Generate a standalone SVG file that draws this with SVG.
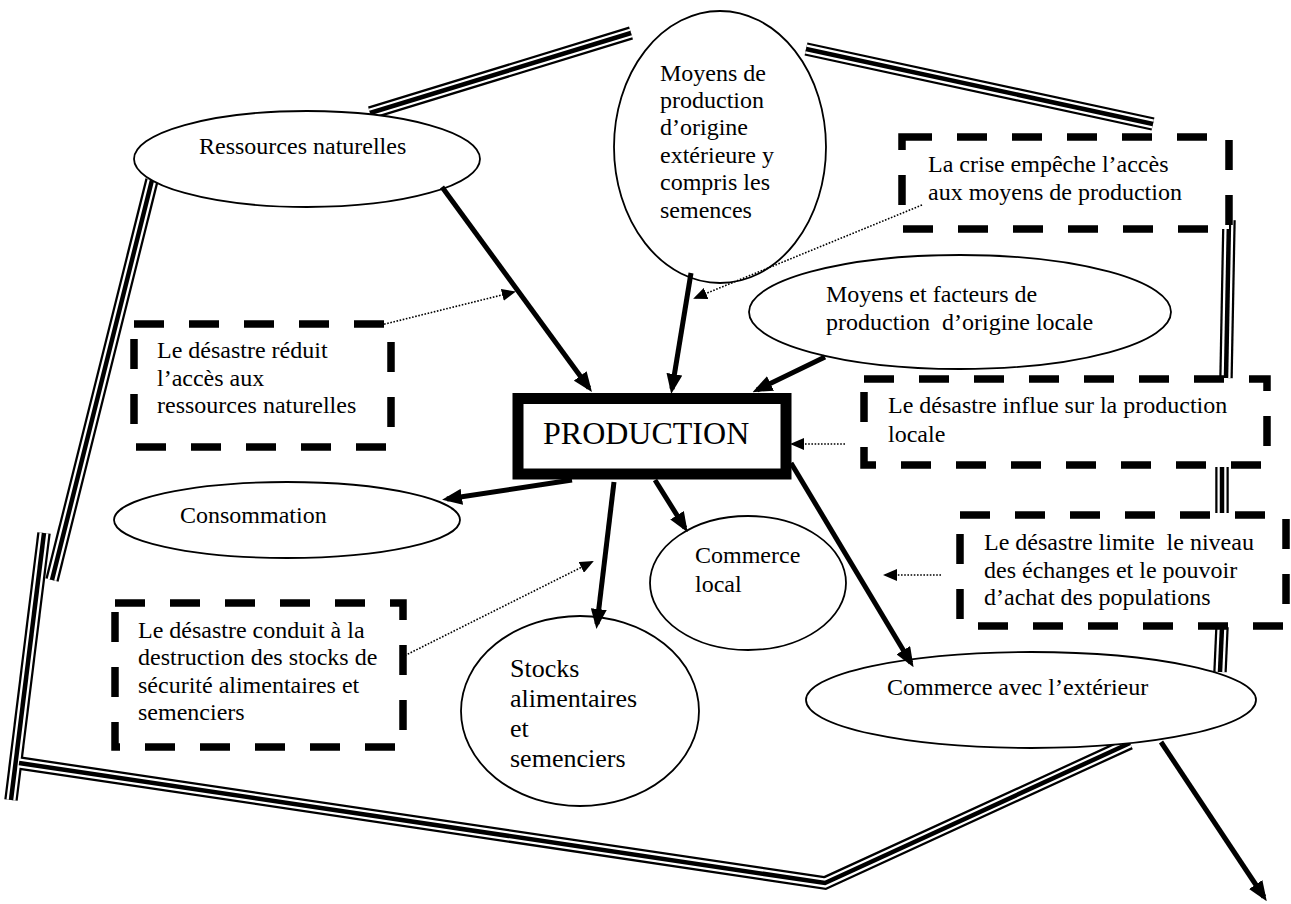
<svg xmlns="http://www.w3.org/2000/svg" width="1291" height="904" viewBox="0 0 1291 904" font-family="Liberation Serif, DejaVu Serif, serif">
<style>
text{font-family:'Liberation Serif','DejaVu Serif',serif;font-size:24px;fill:#000}
.big{font-size:32px}
.st{font-size:26px}
.b1{fill:none;stroke:#000;stroke-width:13.5}
.b2{fill:none;stroke:#fff;stroke-width:9}
.b3{fill:none;stroke:#000;stroke-width:4.5}
.ell{fill:#fff;stroke:#000;stroke-width:1.8}
.dash{fill:#fff;stroke:#000;stroke-width:7.5;stroke-dasharray:30 25}
.arr{fill:none;stroke:#000;stroke-width:5;marker-end:url(#ah)}
.dot{fill:none;stroke:#000;stroke-width:1.6;stroke-dasharray:1.6 1.6;marker-end:url(#dh)}
</style>
<defs>
<marker id="ah" markerUnits="userSpaceOnUse" viewBox="0 0 20 16" markerWidth="20" markerHeight="16" refX="15" refY="8" orient="auto"><path d="M0,0 L20,8 L0,16 z" fill="#000"/></marker>
<marker id="dh" markerUnits="userSpaceOnUse" viewBox="0 0 14 12" markerWidth="14" markerHeight="12" refX="12" refY="6" orient="auto"><path d="M0,0 L14,6 L0,12 z" fill="#000"/></marker>
<g id="border-path">
<path d="M370,113 L631,33"/>
<path d="M806,49 L1153,124"/>
<path d="M1229,220 L1226,378"/>
<path d="M1222,467 L1222,513"/>
<path d="M1222,627 L1220,672"/>
<path d="M1130,743 L825,883 L19,763"/>
<path d="M152,180 L52,580"/>
<path d="M44,533 L11,800"/>
</g>
</defs>
<g id="border">
<use href="#border-path" class="b1"/>
<use href="#border-path" class="b2"/>
<use href="#border-path" class="b3"/>
</g>
<g id="ressources"><ellipse class="ell" cx="307" cy="159" rx="173" ry="48"/><text x="199" y="154">Ressources naturelles</text></g>
<g id="moyens-ext"><ellipse class="ell" cx="720" cy="147" rx="106" ry="136"/>
<text x="660" y="81">Moyens de</text><text x="660" y="108">production</text><text x="660" y="135">d’origine</text><text x="660" y="163">extérieure y</text><text x="660" y="190">compris les</text><text x="660" y="218">semences</text></g>
<g id="crise"><rect class="dash" x="902" y="137" width="327" height="92"/><text x="928" y="172">La crise empêche l’accès</text><text x="928" y="200">aux moyens de production</text></g>
<g id="moyens-local"><ellipse class="ell" cx="960" cy="312" rx="211" ry="57"/><text x="826" y="302">Moyens et facteurs de</text><text x="826" y="330" xml:space="preserve">production  d’origine locale</text></g>
<g id="reduit"><rect class="dash" x="134" y="324" width="257" height="123"/><text x="157" y="358">Le désastre réduit</text><text x="157" y="386">l’accès aux</text><text x="157" y="413">ressources naturelles</text></g>
<g id="production"><rect x="518" y="398.5" width="268" height="75.5" fill="#fff" stroke="#000" stroke-width="11"/><text class="big" x="543" y="444">PRODUCTION</text></g>
<g id="influe"><rect class="dash" x="864" y="379" width="403" height="86"/><text x="888" y="413">Le désastre influe sur la production</text><text x="888" y="442">locale</text></g>
<g id="consommation"><ellipse class="ell" cx="287" cy="520" rx="173" ry="38"/><text x="180" y="523">Consommation</text></g>
<g id="commerce-local"><ellipse class="ell" cx="748" cy="583" rx="98" ry="67"/><text x="695" y="563">Commerce</text><text x="695" y="592">local</text></g>
<g id="limite"><rect class="dash" x="960" y="515" width="326" height="111"/><text x="984" y="550" xml:space="preserve">Le désastre limite  le niveau</text><text x="984" y="578">des échanges et le pouvoir</text><text x="984" y="605">d’achat des populations</text></g>
<g id="destruction"><rect class="dash" x="115" y="603" width="288" height="144"/><text x="138" y="638">Le désastre conduit à la</text><text x="138" y="665">destruction des stocks de</text><text x="138" y="693">sécurité alimentaires et</text><text x="138" y="720">semenciers</text></g>
<g id="stocks"><ellipse class="ell" cx="580" cy="711" rx="119" ry="95"/><text class="st" x="510" y="677">Stocks</text><text class="st" x="510" y="707">alimentaires</text><text class="st" x="510" y="737">et</text><text class="st" x="510" y="767">semenciers</text></g>
<g id="commerce-ext"><ellipse class="ell" cx="1031" cy="700" rx="225" ry="48"/><text x="887" y="695">Commerce avec l’extérieur</text></g>
<g id="connectors">
<path class="arr" d="M442,187 L589,388"/>
<path class="arr" d="M691,273 L672,389"/>
<path class="arr" d="M825,357 L757,390"/>
<path class="arr" d="M572,480 L447,499"/>
<path class="arr" d="M614,482 L597,624"/>
<path class="arr" d="M655,480 L685,528"/>
<path class="arr" d="M791,463 L911,663"/>
<path class="arr" d="M1161,742 L1264,897"/>
<path class="dot" d="M381,325 L514,292"/>
<path class="dot" d="M922,205 L695,298"/>
<path class="dot" d="M845,444 L792,444"/>
<path class="dot" d="M402,657 L592,562"/>
<path class="dot" d="M941,575 L885,575"/>
</g>
</svg>
